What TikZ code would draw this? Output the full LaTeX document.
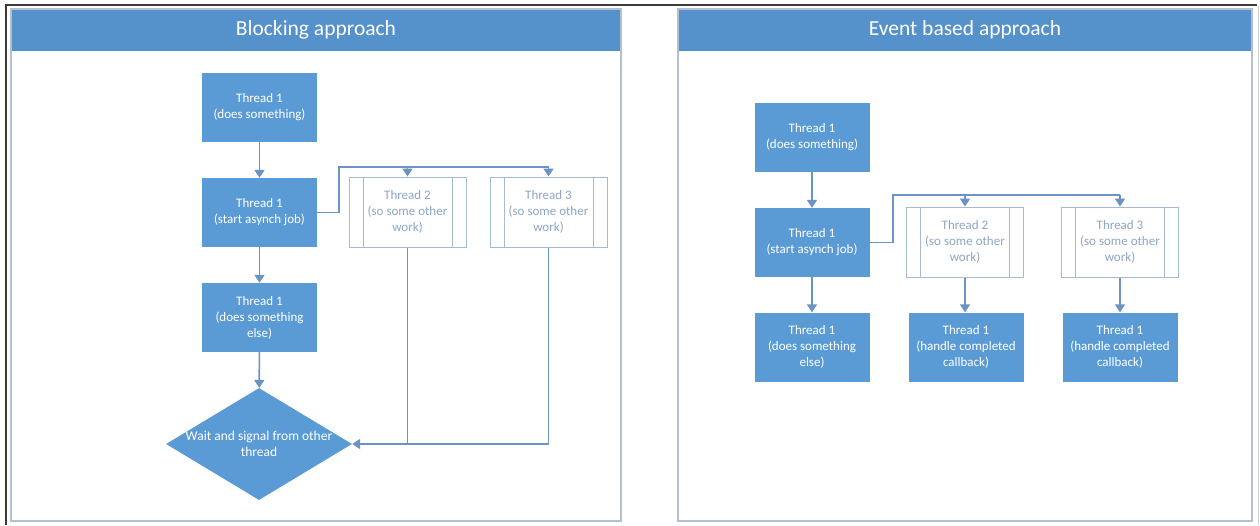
\documentclass[tikz,border=0pt]{standalone}
\usepackage{fontspec}
\setmainfont{Carlito}
\usetikzlibrary{arrows.meta,shapes.geometric}
\definecolor{boxblue}{HTML}{5B9BD5}
\definecolor{headblue}{HTML}{5591CA}
\definecolor{linkblue}{HTML}{6B93C4}
\definecolor{panelgray}{HTML}{B4C0CE}
\definecolor{procedge}{HTML}{A8BAD2}
\definecolor{proctext}{HTML}{8EA6C6}
\definecolor{framedark}{HTML}{3A3A3A}
\begin{document}
\begin{tikzpicture}[x=1pt,y=-1pt,
  panel/.style={draw=panelgray,line width=1.5pt},
  title/.style={text=white,font=\fontsize{21.5}{24}\selectfont,inner sep=0pt},
  job/.style={rectangle,fill=boxblue,draw=none,text=white,align=center,
    font=\fontsize{13}{16}\selectfont,inner sep=0pt,
    minimum width=115pt,minimum height=69pt},
  proc/.style={rectangle,draw=procedge,line width=1pt,fill=white,text=proctext,
    align=center,font=\fontsize{13}{16}\selectfont,inner sep=0pt,
    minimum width=117pt,minimum height=70pt,
    path picture={\draw[procedge,line width=1pt]
      ([xshift=14pt]path picture bounding box.north west) --
      ([xshift=14pt]path picture bounding box.south west)
      ([xshift=-14pt]path picture bounding box.north east) --
      ([xshift=-14pt]path picture bounding box.south east);}},
  wait/.style={diamond,fill=boxblue,draw=none,inner sep=0pt,
    minimum width=186pt,minimum height=112pt},
  waittext/.style={text=white,align=center,font=\fontsize{13.5}{16}\selectfont,inner sep=0pt},
  link/.style={draw=linkblue,line width=1.6pt},
  flow/.style={link,-{Triangle[width=10pt,length=8pt]}}]

\useasboundingbox (0,0) rectangle (1260,525);
\fill[white] (0,0) rectangle (1260,525);

% outer frame
\draw[framedark,line width=1.6pt] (6,525) -- (6,5) -- (1257,5);
\draw[panelgray!70,line width=1pt] (1258,6) -- (1258,525);

% panels with header bands
\fill[headblue] (11,9) rectangle (621,51);
\draw[panel] (11,9) rectangle (621,521);
\node[title] (blocktitle) at (316,30) {Blocking approach};

\fill[headblue] (678,9) rectangle (1252,51);
\draw[panel] (678,9) rectangle (1252,521);
\node[title] (eventtitle) at (965,30) {Event based approach};

% ---- blocking approach ----
\node[job] (l1) at (259.5,107.5) {Thread 1\\(does something)};
\node[job] (l2) at (259.5,212.5) {Thread 1\\(start asynch job)};
\node[job] (l3) at (259.5,317.5) {Thread 1\\(does something\\else)};
\node[wait] (lw) at (259,444) {};
\node[waittext] (lwtext) at (lw.center) {Wait and signal from other\\thread};
\node[proc] (lt2) at (407.5,212) {Thread 2\\(so some other\\work)};
\node[proc] (lt3) at (548.5,212) {Thread 3\\(so some other\\work)};

\coordinate (lsplit) at (339,167);
\draw[flow] (l1) -- (l2);
\draw[flow] (l2) -- (l3);
\draw[flow] (l3) -- (lw);
\draw[link] (l2.east) -| (lsplit) -- (lsplit -| lt3.north);
\draw[flow] (lsplit -| lt3.north) -- (lt3.north);
\draw[flow] (lsplit -| lt2.north) -- (lt2.north);
\draw[flow] (lt3.south) |- (lw.east);
\draw[link] (lt2.south) -- (lt2.south |- lw.east);

% ---- event based approach ----
\node[job] (r1) at (812,137.5) {Thread 1\\(does something)};
\node[job] (r2) at (812,242.5) {Thread 1\\(start asynch job)};
\node[proc] (rt2) at (965,242) {Thread 2\\(so some other\\work)};
\node[proc] (rt3) at (1120,242) {Thread 3\\(so some other\\work)};
\node[job] (r3) at (812,347) {Thread 1\\(does something\\else)};
\node[job] (r4) at (966,347) {Thread 1\\(handle completed\\callback)};
\node[job] (r5) at (1120,347) {Thread 1\\(handle completed\\callback)};

\coordinate (rsplit) at (893,195);
\draw[flow] (r1) -- (r2);
\draw[flow] (r2) -- (r3);
\draw[link] (r2.east) -| (rsplit) -- (rsplit -| rt3.north);
\draw[flow] (rsplit -| rt3.north) -- (rt3.north);
\draw[flow] (rsplit -| rt2.north) -- (rt2.north);
\draw[flow] (rt2.south) -- (rt2.south |- r4.north);
\draw[flow] (rt3) -- (r5);
\end{tikzpicture}
\end{document}
